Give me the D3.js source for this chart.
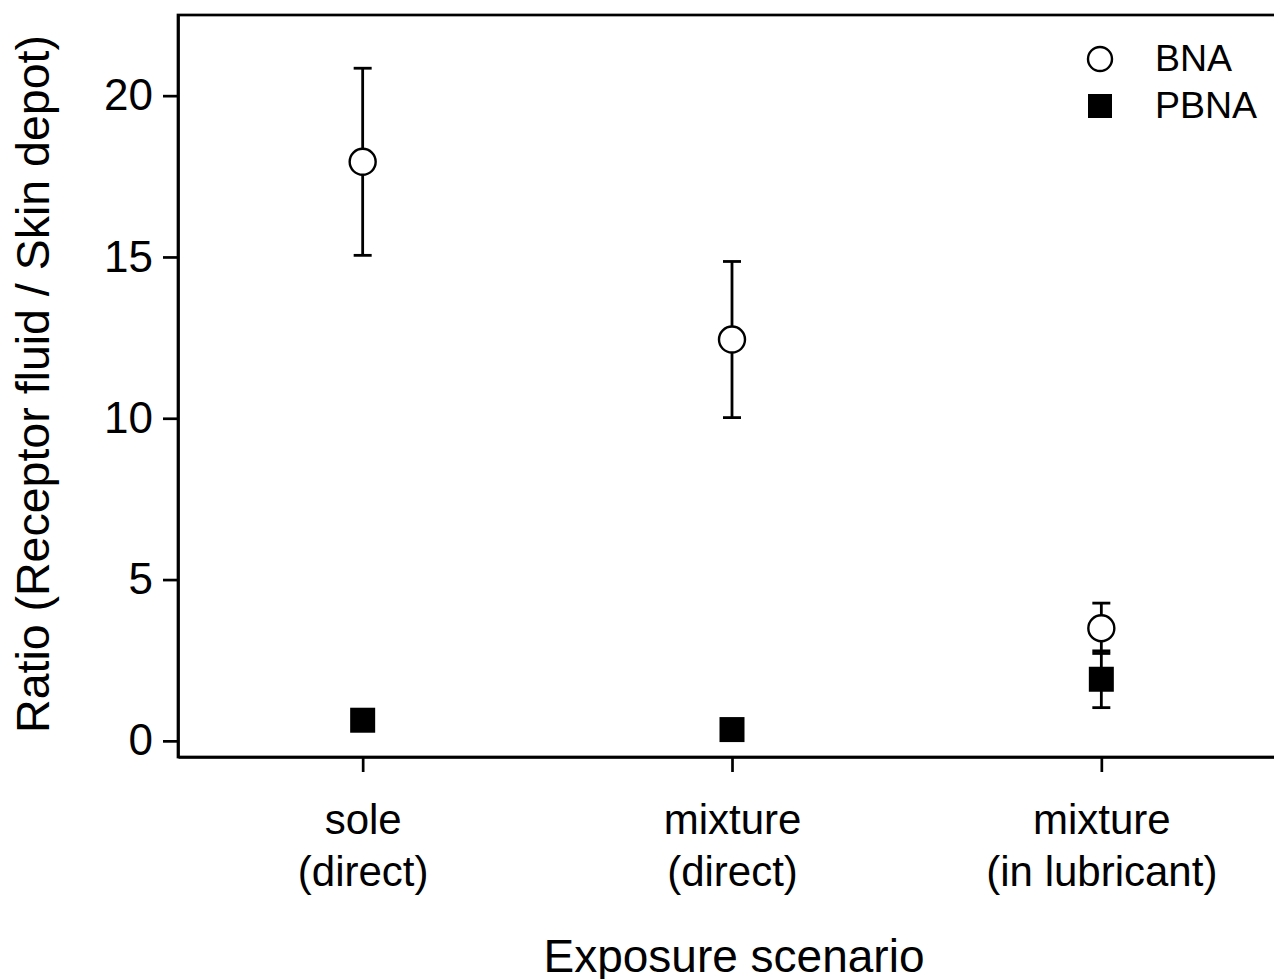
<!DOCTYPE html>
<html>
<head>
<meta charset="utf-8">
<style>
body { margin: 0; background: #fff; }
svg { display: block; font-family: "Liberation Sans", Arial, sans-serif; }
.axis path, .axis line { stroke: #000; stroke-width: 2.7px; }
.axis text { fill: #000; }
</style>
<script src="https://d3js.org/d3.v7.min.js"></script>
</head>
<body>
<script>
// data
var scenarios = ["sole|(direct)", "mixture|(direct)", "mixture|(in lubricant)"];
var bnaMean = [17.95, 12.44, 3.49];
var bnaErr = [2.9, 2.42, 0.78];
var pbnaMean = [0.64, 0.35, 1.91];
var pbnaErr = [0.15, 0.12, 0.88];
var yTicks = [0, 5, 10, 15, 20];

var width = 1274, height = 979;
var plotLeft = 178, plotTop = 15, plotBottom = 757, plotRight = 1286;

var svg = d3.select("body").append("svg")
    .attr("width", width)
    .attr("height", height);

var x = d3.scalePoint()
    .domain(scenarios)
    .range([plotLeft, plotRight])
    .padding(0.5);

var y = d3.scaleLinear()
    .domain([-0.5, 22.5])
    .range([plotBottom, plotTop]);

// frame (right side falls off the page like the original)
svg.append("rect")
    .attr("x", plotLeft).attr("y", plotTop)
    .attr("width", plotRight - plotLeft).attr("height", plotBottom - plotTop)
    .attr("fill", "none")
    .attr("stroke", "#000")
    .attr("stroke-width", 2.7);

// y axis
var yAxis = svg.append("g")
    .attr("class", "axis")
    .attr("transform", "translate(" + plotLeft + ",0)")
    .call(d3.axisLeft(y).tickValues(yTicks).tickSize(15).tickSizeOuter(0).tickPadding(10));
yAxis.selectAll("text").style("font-size", "44px").style("font-family", "Liberation Sans, Arial, sans-serif");

// x axis
var xAxis = svg.append("g")
    .attr("class", "axis")
    .attr("transform", "translate(0," + plotBottom + ")")
    .call(d3.axisBottom(x).tickSize(15).tickSizeOuter(0).tickFormat(""));

xAxis.selectAll(".tick").each(function(d) {
  var parts = d.split("|");
  var t = d3.select(this).append("text")
      .attr("text-anchor", "middle")
      .attr("fill", "#000")
      .style("font-size", "42px")
      .style("font-family", "Liberation Sans, Arial, sans-serif");
  t.append("tspan").attr("x", 0).attr("y", 77).text(parts[0]);
  t.append("tspan").attr("x", 0).attr("y", 129).text(parts[1]);
});

// axis titles
svg.append("text")
    .attr("x", x(scenarios[1]) + 2)
    .attr("y", 972)
    .attr("text-anchor", "middle")
    .style("font-size", "46px")
    .text("Exposure scenario");

svg.append("text")
    .attr("transform", "translate(49," + ((plotTop + plotBottom) / 2 - 2) + ") rotate(-90)")
    .attr("text-anchor", "middle")
    .style("font-size", "46.5px")
    .text("Ratio (Receptor fluid / Skin depot)");

// error bars
function errorBars(means, errs) {
  var g = svg.append("g").attr("stroke", "#000").attr("stroke-width", 2.8);
  g.selectAll(null).data(scenarios).enter().append("line")
      .attr("x1", function(d) { return x(d); })
      .attr("x2", function(d) { return x(d); })
      .attr("y1", function(d, i) { return y(means[i] - errs[i]); })
      .attr("y2", function(d, i) { return y(means[i] + errs[i]); });
  [-1, 1].forEach(function(s) {
    g.selectAll(null).data(scenarios).enter().append("line")
        .attr("x1", function(d) { return x(d) - 9; })
        .attr("x2", function(d) { return x(d) + 9; })
        .attr("y1", function(d, i) { return y(means[i] + s * errs[i]); })
        .attr("y2", function(d, i) { return y(means[i] + s * errs[i]); });
  });
}
errorBars(bnaMean, bnaErr);
errorBars(pbnaMean, pbnaErr);

// BNA open circles
svg.selectAll(null).data(scenarios).enter().append("circle")
    .attr("cx", function(d) { return x(d); })
    .attr("cy", function(d, i) { return y(bnaMean[i]); })
    .attr("r", 13)
    .attr("fill", "#fff")
    .attr("stroke", "#000")
    .attr("stroke-width", 2.4);

// PBNA filled squares
var sq = 25;
svg.selectAll(null).data(scenarios).enter().append("rect")
    .attr("x", function(d) { return x(d) - sq / 2; })
    .attr("y", function(d, i) { return y(pbnaMean[i]) - sq / 2; })
    .attr("width", sq).attr("height", sq)
    .attr("fill", "#000");

// legend
var legend = svg.append("g");
legend.append("circle")
    .attr("cx", 1100).attr("cy", 59).attr("r", 12)
    .attr("fill", "#fff").attr("stroke", "#000").attr("stroke-width", 2.4);
legend.append("rect")
    .attr("x", 1088).attr("y", 94).attr("width", 24).attr("height", 24)
    .attr("fill", "#000");
legend.append("text").attr("x", 1155).attr("y", 71)
    .style("font-size", "37.5px").text("BNA");
legend.append("text").attr("x", 1155).attr("y", 118)
    .style("font-size", "37.5px").text("PBNA");
</script>
</body>
</html>
